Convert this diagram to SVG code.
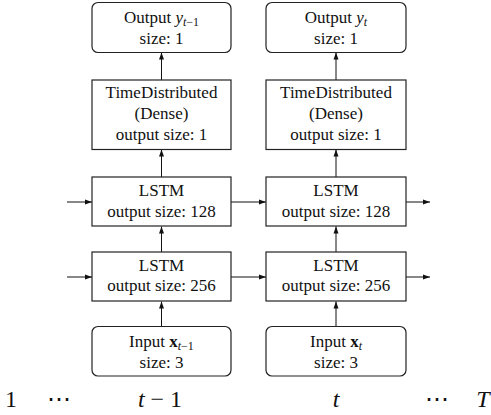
<svg xmlns="http://www.w3.org/2000/svg" width="491" height="415" viewBox="0 0 491 415">
<defs>
<style>
.box{fill:#fff;stroke:#222;stroke-width:1.2}
.t{font-family:'Liberation Serif','Times New Roman',Times,serif;font-size:17px;fill:#111;text-anchor:middle}
.lab{font-family:'Liberation Serif','Times New Roman',Times,serif;font-size:24px;fill:#111;text-anchor:middle}
.it{font-style:italic}
.bf{font-weight:bold}
.e{stroke:#111;stroke-width:1;fill:none;marker-end:url(#ah)}
</style>
<marker id="ah" markerUnits="userSpaceOnUse" markerWidth="8" markerHeight="8" viewBox="0 0 8 8" refX="7" refY="4" orient="auto">
<path d="M0,1.5 L7,4 L0,6.5 Z" fill="#111"/>
</marker>
</defs>
<g id="connectors">
<line class="e" x1="161.5" y1="80" x2="161.5" y2="52.5"/>
<line class="e" x1="161.5" y1="177" x2="161.5" y2="149.5"/>
<line class="e" x1="161.5" y1="252" x2="161.5" y2="226.5"/>
<line class="e" x1="161.5" y1="326" x2="161.5" y2="301.5"/>
<line class="e" x1="336" y1="80" x2="336" y2="52.5"/>
<line class="e" x1="336" y1="177" x2="336" y2="149.5"/>
<line class="e" x1="336" y1="252" x2="336" y2="226.5"/>
<line class="e" x1="336" y1="326" x2="336" y2="301.5"/>
<line class="e" x1="67" y1="202" x2="92" y2="202"/>
<line class="e" x1="231" y1="202" x2="266" y2="202"/>
<line class="e" x1="406" y1="202" x2="430" y2="202"/>
<line class="e" x1="67" y1="277" x2="92" y2="277"/>
<line class="e" x1="231" y1="277" x2="266" y2="277"/>
<line class="e" x1="406" y1="277" x2="430" y2="277"/>
</g>
<g id="out1">
<rect class="box" x="92" y="2.5" width="139" height="50" rx="6"/>
<text class="t" x="161.5" y="23">Output <tspan class="it">y</tspan><tspan font-size="12" dy="3" class="it">t</tspan><tspan font-size="12">−1</tspan></text>
<text class="t" x="161.5" y="44">size: 1</text>
</g>
<g id="out2">
<rect class="box" x="266" y="2.5" width="140" height="50" rx="6"/>
<text class="t" x="336" y="23">Output <tspan class="it">y</tspan><tspan font-size="12" dy="3" class="it">t</tspan></text>
<text class="t" x="336" y="44">size: 1</text>
</g>
<g id="td1">
<rect class="box" x="92" y="80" width="139" height="69.5"/>
<text class="t" x="161.5" y="98">TimeDistributed</text>
<text class="t" x="161.5" y="119">(Dense)</text>
<text class="t" x="161.5" y="140">output size: 1</text>
</g>
<g id="td2">
<rect class="box" x="266" y="80" width="140" height="69.5"/>
<text class="t" x="336" y="98">TimeDistributed</text>
<text class="t" x="336" y="119">(Dense)</text>
<text class="t" x="336" y="140">output size: 1</text>
</g>
<g id="lstm128a">
<rect class="box" x="92" y="177" width="139" height="49"/>
<text class="t" x="161.5" y="196">LSTM</text>
<text class="t" x="161.5" y="217">output size: 128</text>
</g>
<g id="lstm128b">
<rect class="box" x="266" y="177" width="140" height="49"/>
<text class="t" x="336" y="196">LSTM</text>
<text class="t" x="336" y="217">output size: 128</text>
</g>
<g id="lstm256a">
<rect class="box" x="92" y="252" width="139" height="49"/>
<text class="t" x="161.5" y="271">LSTM</text>
<text class="t" x="161.5" y="291">output size: 256</text>
</g>
<g id="lstm256b">
<rect class="box" x="266" y="252" width="140" height="49"/>
<text class="t" x="336" y="271">LSTM</text>
<text class="t" x="336" y="291">output size: 256</text>
</g>
<g id="in1">
<rect class="box" x="92" y="326.5" width="139" height="49.5" rx="6"/>
<text class="t" x="161.5" y="347">Input <tspan class="bf">x</tspan><tspan font-size="12" dy="3" class="it">t</tspan><tspan font-size="12">−1</tspan></text>
<text class="t" x="161.5" y="368">size: 3</text>
</g>
<g id="in2">
<rect class="box" x="266" y="326.5" width="140" height="49.5" rx="6"/>
<text class="t" x="336" y="347">Input <tspan class="bf">x</tspan><tspan font-size="12" dy="3" class="it">t</tspan></text>
<text class="t" x="336" y="368">size: 3</text>
</g>
<g id="labels">
<text class="lab" x="11" y="407" font-size="19">1</text>
<text class="lab" x="59" y="407">⋯</text>
<text class="lab" x="160" y="407"><tspan class="it">t</tspan> − 1</text>
<text class="lab it" x="336" y="407">t</text>
<text class="lab" x="437" y="407">⋯</text>
<text class="lab it" x="483" y="407">T</text>
</g>
</svg>
